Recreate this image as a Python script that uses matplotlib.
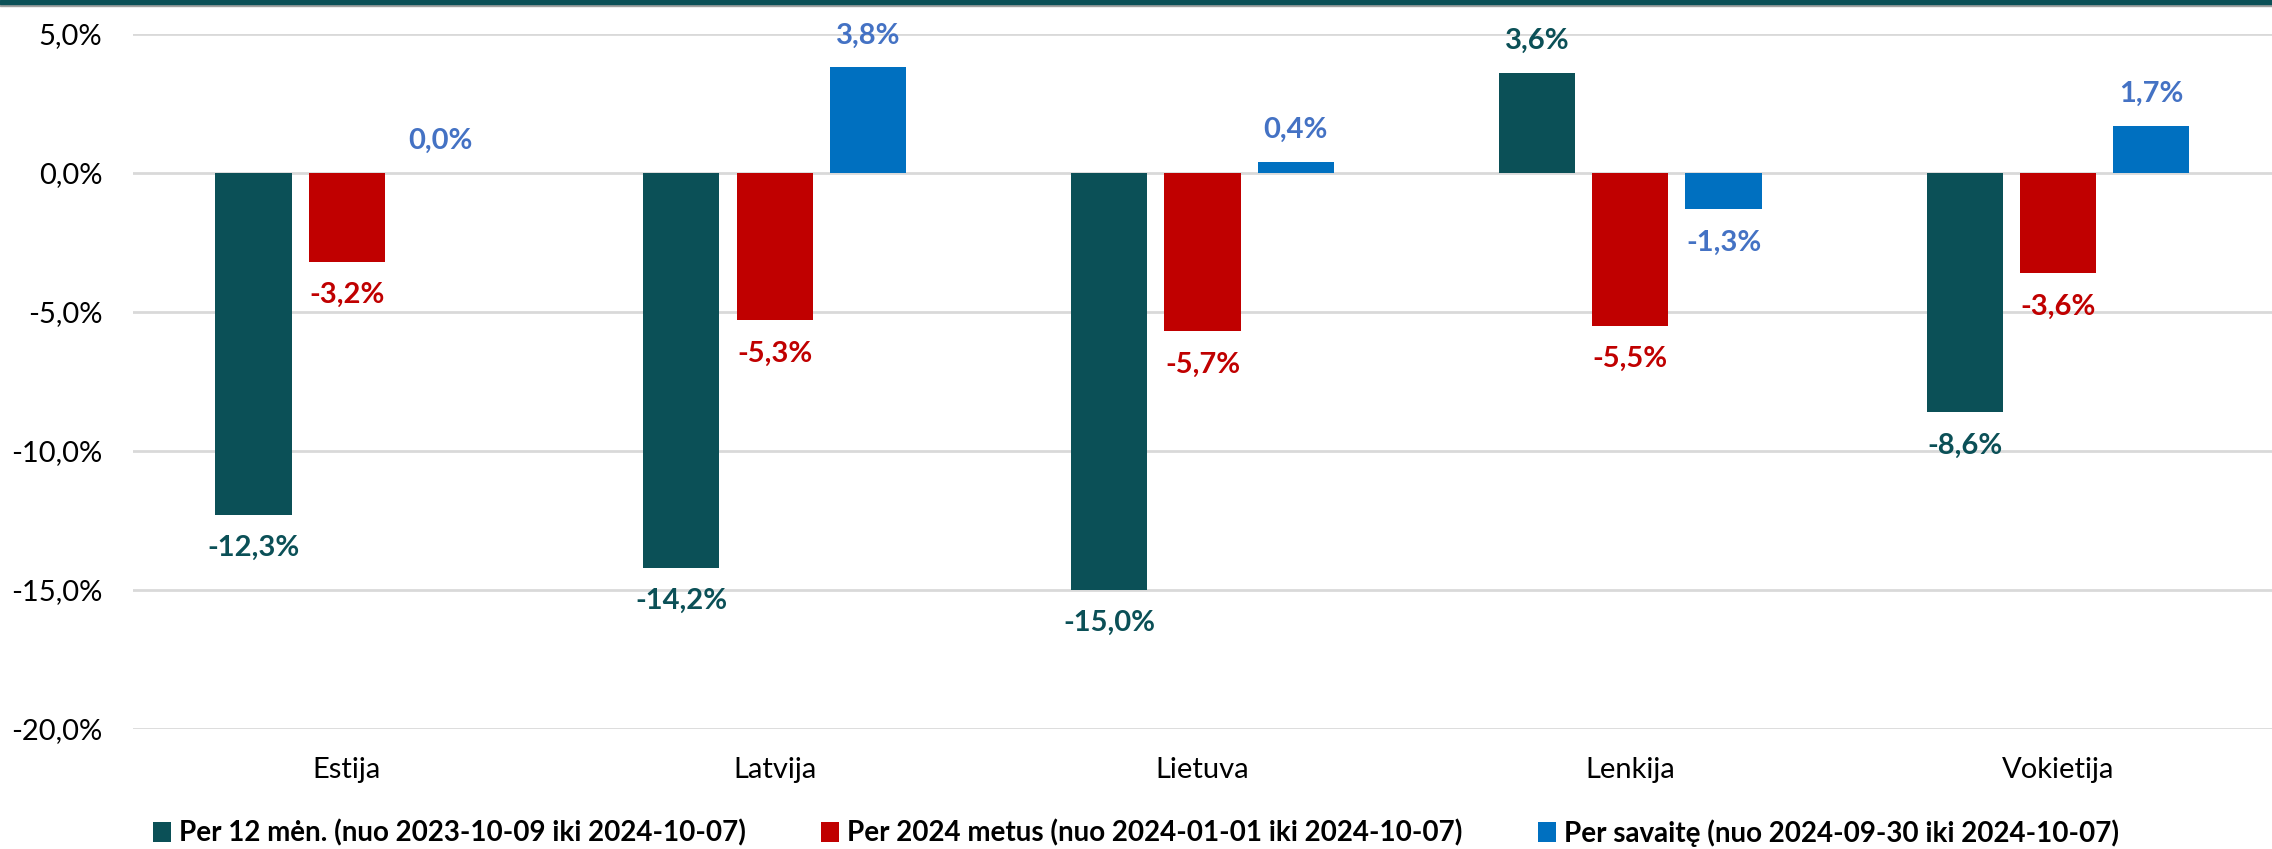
import matplotlib.pyplot as plt
import matplotlib.patches as mpatches
import numpy as np

plt.rcParams['font.family'] = ['Lato', 'DejaVu Sans']

countries = ['Estija', 'Latvija', 'Lietuva', 'Lenkija', 'Vokietija']
per_12m = [-12.3, -14.2, -15.0, 3.6, -8.6]
per_2024 = [-3.2, -5.3, -5.7, -5.5, -3.6]
per_week = [0.0, 3.8, 0.4, -1.3, 1.7]

series_names = ['Per 12 mėn. (nuo 2023-10-09 iki 2024-10-07)',
                'Per 2024 metus (nuo 2024-01-01 iki 2024-10-07)',
                'Per savaitę (nuo 2024-09-30 iki 2024-10-07)']
bar_colors = ['#0B5057', '#C00000', '#0070C0']
label_colors = ['#0B5057', '#C00000', '#4472C4']

fig = plt.figure(figsize=(22.72, 8.49), dpi=100)
ax = fig.add_axes([0.0585, 1 - 729 / 849, 0.9415, (729 - 34) / 849])

x = np.arange(len(countries))
width = 0.178
offsets = [-0.218, 0.0, 0.218]

for vals, off, col, lcol, name in zip([per_12m, per_2024, per_week], offsets,
                                      bar_colors, label_colors, series_names):
    ax.bar(x + off, vals, width, color=col, label=name, zorder=3)
    for xi, v in zip(x, vals):
        dy = 23 if v >= 0 else -24
        ax.annotate(f'{v:.1f}%'.replace('.', ','), (xi + off, v),
                    xytext=(0, dy), textcoords='offset points',
                    ha='center', va='center', fontsize=21,
                    fontweight='bold', color=lcol)

ax.set_xlim(-0.5, 4.5)
ax.set_ylim(-20, 5)
yt = np.arange(-20, 5.1, 5)
ax.set_yticks(yt)
ax.set_yticklabels([f'{t:.1f}%'.replace('.', ',') for t in yt])
ax.set_xticks(x)
ax.set_xticklabels(countries)
ax.tick_params(axis='both', length=0, labelsize=21, colors='#000000')
ax.tick_params(axis='y', pad=22)
ax.tick_params(axis='x', pad=20)
ax.grid(axis='y', color='#D9D9D9', linewidth=2, zorder=0)
for s in ax.spines.values():
    s.set_visible(False)

# top band
fig.patches.append(mpatches.Rectangle((0, 1 - 4 / 849), 1, 4 / 849,
                                      transform=fig.transFigure,
                                      color='#0B5057', zorder=5))
fig.patches.append(mpatches.Rectangle((0, 1 - 6 / 849), 1, 2 / 849,
                                      transform=fig.transFigure,
                                      color='#A0A0A0', zorder=4))

handles, labels = ax.get_legend_handles_labels()
leg = fig.legend(handles, labels, loc='center', bbox_to_anchor=(0.5, 1 - 833 / 849),
                 ncol=3, frameon=False, handlelength=0.65, handleheight=0.7,
                 handletextpad=0.3, columnspacing=2.7,
                 prop={'weight': 'bold', 'size': 20})

fig.savefig('out.png', dpi=100)
